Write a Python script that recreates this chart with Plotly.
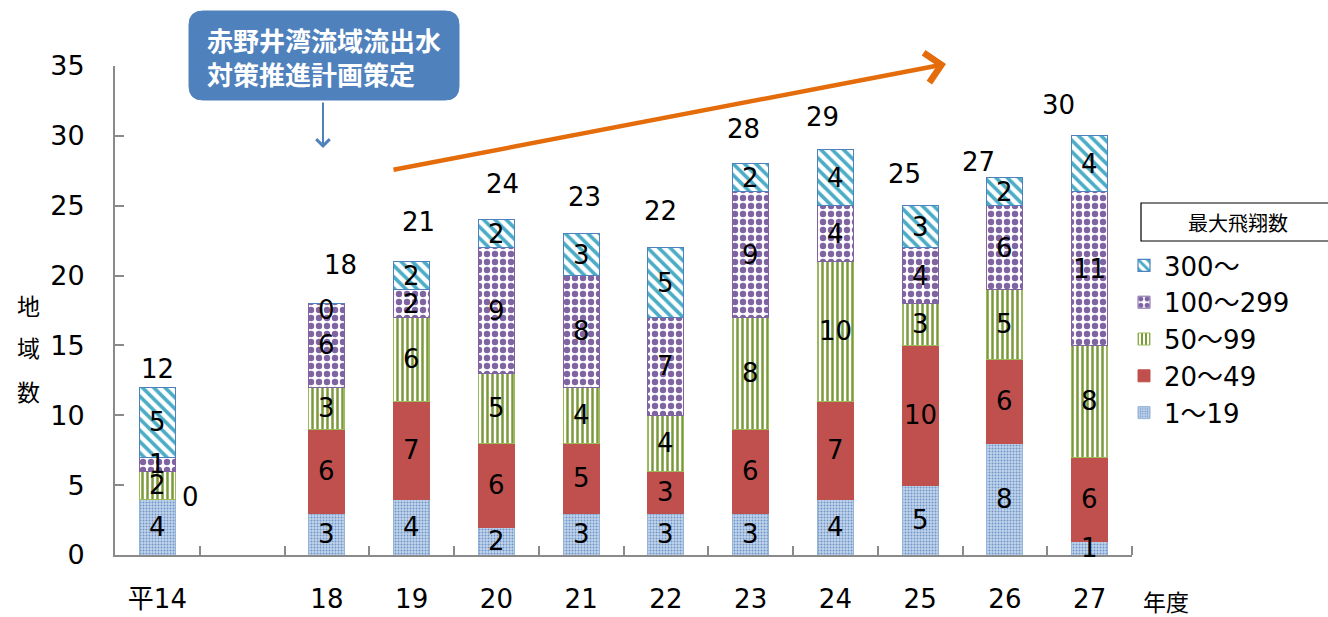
import plotly.graph_objects as go

# ---- data -------------------------------------------------------------
years = ["平14", "", "18", "19", "20", "21", "22", "23", "24", "25", "26", "27"]
series_names = ["1～19", "20～49", "50～99", "100～299", "300～"]
v_1_19 = [4, None, 3, 4, 2, 3, 3, 3, 4, 5, 8, 1]
v_20_49 = [0, None, 6, 7, 6, 5, 3, 6, 7, 10, 6, 6]
v_50_99 = [2, None, 3, 6, 5, 4, 4, 8, 10, 3, 5, 8]
v_100_299 = [1, None, 6, 2, 9, 8, 7, 9, 4, 4, 6, 11]
v_300 = [5, None, 0, 2, 2, 3, 5, 2, 4, 3, 2, 4]
totals = [12, None, 18, 21, 24, 23, 22, 28, 29, 25, 27, 30]
y_ticks = [0, 5, 10, 15, 20, 25, 30, 35]

# ---- styling ------------------------------------------------------------
FONT = "DejaVu Sans, Noto Sans CJK JP, sans-serif"
JP = "Noto Sans CJK JP, sans-serif"
AXIS_GREY = "#8a8a8a"
W, H = 1328, 617
ML, MR, MT, MB = 115, 196, 66, 62

styles = [
    dict(marker_color="#b9cde6",
         marker_pattern=dict(shape=".", fgcolor="#6f95c9", bgcolor="#c4d5ec",
                             size=3, solidity=0.35, fillmode="replace"),
         marker_line=dict(color="#95b3d7", width=1)),
    dict(marker_color="#c0504d",
         marker_line=dict(color="#c0504d", width=1)),
    dict(marker_color="#ffffff",
         marker_pattern=dict(shape="|", fgcolor="#7a9a3a", bgcolor="#ffffff",
                             size=5, solidity=0.5, fillmode="replace"),
         marker_line=dict(color="#9bbb59", width=1)),
    dict(marker_color="#ffffff",
         marker_pattern=dict(shape=".", fgcolor="#8064a2", bgcolor="#ffffff",
                             size=8, solidity=0.5, fillmode="replace"),
         marker_line=dict(color="#8064a2", width=1)),
    dict(marker_color="#ffffff",
         marker_pattern=dict(shape="\\", fgcolor="#4bacc6", bgcolor="#ffffff",
                             size=8, solidity=0.45, fillmode="replace"),
         marker_line=dict(color="#4f81bd", width=1.2)),
]

# per-bar placement of the total labels (x shift in px, height above bar in px)
total_label_place = [(0, 18), (0, 0), (14, 39), (7, 40), (6, 36), (3, 37),
                     (-5, 37), (-7, 35), (-13, 33), (-16, 32), (-26, 16), (-31, 31)]

x_pos = list(range(len(years)))
series_vals = [v_1_19, v_20_49, v_50_99, v_100_299, v_300]
fig = go.Figure()

for name, vals, st in zip(series_names, series_vals, styles):
    fig.add_trace(go.Bar(x=x_pos, y=vals, name=name, hoverinfo="x+y+name",
                         legendgroup=name, showlegend=True, **st))

PW = W - ML - MR
PH = H - MT - MB


def px(xp):
    return (xp - ML) / PW


def py(yp):
    return (H - MB - yp) / PH


fig.update_layout(
    barmode="stack", bargap=0.575,
    width=W, height=H,
    margin=dict(l=ML, r=MR, t=MT, b=MB, autoexpand=False),
    plot_bgcolor="white", paper_bgcolor="white",
    font=dict(family=FONT, size=26, color="black"),
    legend=dict(x=px(1124), xanchor="left", y=py(242), yanchor="top",
                traceorder="reversed", tracegroupgap=0,
                font=dict(family=FONT, size=26, color="black"),
                bgcolor="rgba(0,0,0,0)", itemwidth=30),
)

fig.update_xaxes(
    range=[-0.5, len(years) - 0.5],
    tickvals=[i for i, y in enumerate(years) if y],
    ticktext=[y for y in years if y],
    ticks="", showline=True, linecolor=AXIS_GREY, linewidth=2,
    ticklabelstandoff=20, automargin=False,
    tickfont=dict(family=FONT, size=26, color="black"),
    minor=dict(tickvals=[i + 0.5 for i in x_pos], ticks="inside",
               ticklen=9, tickwidth=1.5, tickcolor=AXIS_GREY),
    showgrid=False, zeroline=False, fixedrange=True,
)
fig.update_yaxes(
    range=[0, 35], tickvals=y_ticks, ticks="inside", ticklen=9,
    tickwidth=1.5, tickcolor=AXIS_GREY,
    showline=True, linecolor=AXIS_GREY, linewidth=2,
    ticklabelstandoff=23, automargin=False,
    tickfont=dict(family=FONT, size=27, color="black"),
    showgrid=False, zeroline=False,
)

SEG_FONT = dict(family=FONT, size=26, color="black")

# value labels in the middle of each segment
for i in x_pos:
    base = 0
    for k, vals in enumerate(series_vals):
        v = vals[i]
        if v is None:
            continue
        if v > 0:
            fig.add_annotation(x=i, y=base + v / 2, text=str(v),
                               showarrow=False, yanchor="middle",
                               font=SEG_FONT)
        base += v

# zero-height segment labels
fig.add_annotation(x=0, y=v_1_19[0] + v_20_49[0], text=str(v_20_49[0]),
                   showarrow=False, xshift=33, yshift=2, font=SEG_FONT)
top18 = sum(v[2] for v in series_vals[:4])
fig.add_annotation(x=2, y=top18 + v_300[2], text=str(v_300[2]),
                   showarrow=False, yshift=-6, font=SEG_FONT)

# total labels above each bar
for i, t in enumerate(totals):
    if t is None:
        continue
    dx, dy = total_label_place[i]
    fig.add_annotation(x=i, y=t, text=str(t), showarrow=False,
                       xshift=dx, yshift=dy, yanchor="middle", font=SEG_FONT)

# y-axis title, one character per line
for ch, yp in zip("地域数", [305, 347, 391]):
    fig.add_annotation(xref="paper", yref="paper", x=px(28), y=py(yp),
                       text=ch, showarrow=False, xanchor="center",
                       yanchor="middle",
                       font=dict(family=JP, size=23, color="black"))

# x-axis unit
fig.add_annotation(xref="paper", yref="paper", x=px(1166), y=py(601),
                   text="年度", showarrow=False, xanchor="center",
                   yanchor="middle", font=dict(family=JP, size=23, color="black"))

# legend heading box
fig.add_shape(type="rect", xref="paper", yref="paper",
              x0=px(1141), x1=px(1340), y0=py(241), y1=py(203),
              line=dict(color="black", width=1.2), fillcolor="white")
fig.add_annotation(xref="paper", yref="paper", x=px(1238), y=py(222),
                   text="最大飛翔数", showarrow=False, xanchor="center",
                   yanchor="middle", font=dict(family=JP, size=20, color="black"))

# callout box with rounded corners
x0, x1, y0, y1, r = 189, 459, 11, 100, 14
path = (f"M {px(x0 + r)},{py(y0)} L {px(x1 - r)},{py(y0)} "
        f"Q {px(x1)},{py(y0)} {px(x1)},{py(y0 + r)} "
        f"L {px(x1)},{py(y1 - r)} Q {px(x1)},{py(y1)} {px(x1 - r)},{py(y1)} "
        f"L {px(x0 + r)},{py(y1)} Q {px(x0)},{py(y1)} {px(x0)},{py(y1 - r)} "
        f"L {px(x0)},{py(y0 + r)} Q {px(x0)},{py(y0)} {px(x0 + r)},{py(y0)} Z")
fig.add_shape(type="path", path=path, xref="paper", yref="paper",
              fillcolor="#4f81bd", line=dict(color="#4f81bd", width=1))
fig.add_annotation(xref="paper", yref="paper", x=px(205), y=py(56),
                   text="<b>赤野井湾流域流出水<br>対策推進計画策定</b>",
                   showarrow=False, xanchor="left", yanchor="middle",
                   align="left",
                   font=dict(family=JP, size=26, color="white"))

# arrow from the callout down to the bar area
fig.add_annotation(xref="paper", yref="paper", x=px(323), y=py(148),
                   ax=0, ay=-47, text="", showarrow=True,
                   arrowhead=4, arrowsize=1.3, arrowwidth=2,
                   arrowcolor="#4f81bd", standoff=0)

# rising-trend arrow
fig.add_annotation(xref="paper", yref="paper", x=px(946), y=py(64),
                   ax=392 - 946, ay=170 - 64, text="", showarrow=True,
                   arrowhead=4, arrowsize=1.3, arrowwidth=4.5,
                   arrowcolor="#e46c0a", standoff=0)

fig.write_html("out.html")
